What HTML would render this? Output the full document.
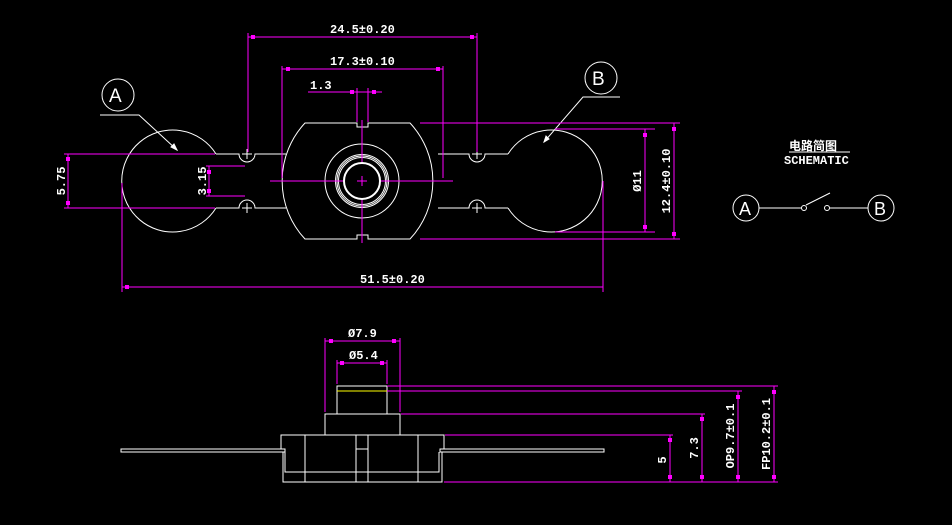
<!DOCTYPE html>
<html><head><meta charset="utf-8"><style>
html,body{margin:0;padding:0;background:#000;}
svg{display:block}
text{font-family:"Liberation Mono","Noto Sans CJK SC",monospace;font-weight:bold;fill:#fff;font-size:12px}
</style></head><body>
<svg width="952" height="525" viewBox="0 0 952 525" xmlns="http://www.w3.org/2000/svg">
<rect width="952" height="525" fill="#000"/>
<g fill="none" stroke="#fff" stroke-width="1">
<path d="M216,154 A51,51 0 1 0 216,208"/>
<path d="M216,154 H239 A8,8 0 0 0 255,154 H286"/>
<path d="M216,208 H239 A8,8 0 0 1 255,208 H286"/>
<path d="M508,154 A51,51 0 1 1 508,208"/>
<path d="M508,154 H485 A8,8 0 0 1 469,154 H438"/>
<path d="M508,208 H485 A8,8 0 0 0 469,208 H438"/>
<path d="M305,123 H357 V127 H368 V123 H410 A85,85 0 0 1 410,239 H368 V235 H357 V239 H305 A85,85 0 0 1 305,123 Z"/>
<circle cx="362" cy="181" r="37"/>
<circle cx="362" cy="181" r="26.5"/>
<circle cx="362" cy="181" r="25"/>
<circle cx="362" cy="181" r="23.5"/>
<circle cx="362" cy="181" r="18" stroke-width="2"/>
<path d="M242,154h10M247,149v10M242,208h10M247,203v10M472,154h10M477,149v10M472,208h10M477,203v10"/>
<circle cx="118" cy="95" r="16"/>
<path d="M100,115 H139 L177,150"/>
<circle cx="601" cy="78" r="16"/>
<path d="M620,97 H583 L544,142"/>
<circle cx="746" cy="208" r="13"/>
<circle cx="881" cy="208" r="13"/>
<path d="M759,208 H802 M829,208 H868 M806,205 L830,193"/>
<circle cx="804" cy="208" r="2.5"/>
<circle cx="827" cy="208" r="2.5"/>
<path d="M789,152 H850"/>
<rect x="121" y="449" width="164" height="3"/>
<rect x="440" y="449" width="164" height="3"/>
<path d="M281,449 V435 H444 V449 M283,452 V482 H442 V452 M285,452 V472 H439 V452"/>
<path d="M305,435V482 M356,435V482 M368,435V482 M418,435V482 M356,449H368"/>
<rect x="325" y="414" width="75" height="21"/>
<rect x="337" y="386" width="50" height="28"/>
</g>
<path d="M177,150 l-6,-3 l3,-3 z M544,142 l2,-6 l3,3 z" fill="#fff" stroke="#fff"/>
<path d="M337,391 H387" stroke="#ff0" stroke-width="1"/>
<g stroke="#f0f" stroke-width="1" fill="none">
<path d="M248,33V152 M477,33V152 M248,37H477"/>
<path d="M282,66V178 M443,66V178 M282,69H443"/>
<path d="M308,92H382 M357,88V122 M368,88V122"/>
<path d="M270,181H343 M381,181H453 M362,120V162 M362,200V243 M357,181H367 M362,176V186"/>
<path d="M64,154H215 M64,208H215 M68,154V208"/>
<path d="M206,166H245 M206,196H245 M209,166V196"/>
<path d="M122,183V292 M603,181V292 M122,287H603"/>
<path d="M555,129H655 M555,232H655 M645,129V232"/>
<path d="M420,123H680 M420,239H680 M674,123V239"/>
<path d="M325,338V412 M400,338V412 M325,341H400"/>
<path d="M337,360V384 M387,360V384 M337,363H387"/>
<path d="M387,386H778 M387,391H742 M401,414H705 M445,435H673 M444,482H778"/>
<path d="M670,435V482 M702,414V482 M738,391V482 M774,386V482"/>
</g>
<g fill="#f0f">
<rect x="251" y="35" width="4" height="4"/><rect x="470" y="35" width="4" height="4"/>
<rect x="286" y="67" width="4" height="4"/><rect x="436" y="67" width="4" height="4"/>
<rect x="350" y="90" width="4" height="4"/><rect x="372" y="90" width="4" height="4"/>
<rect x="66" y="157" width="4" height="4"/><rect x="66" y="201" width="4" height="4"/>
<rect x="207" y="170" width="4" height="4"/><rect x="207" y="189" width="4" height="4"/>
<rect x="125" y="285" width="4" height="4"/>
<rect x="643" y="133" width="4" height="4"/><rect x="643" y="225" width="4" height="4"/>
<rect x="672" y="127" width="4" height="4"/><rect x="672" y="232" width="4" height="4"/>
<rect x="329" y="339" width="4" height="4"/><rect x="392" y="339" width="4" height="4"/>
<rect x="340" y="361" width="4" height="4"/><rect x="380" y="361" width="4" height="4"/>
<rect x="668" y="438" width="4" height="4"/><rect x="668" y="475" width="4" height="4"/>
<rect x="700" y="417" width="4" height="4"/><rect x="700" y="475" width="4" height="4"/>
<rect x="736" y="395" width="4" height="4"/><rect x="736" y="475" width="4" height="4"/>
<rect x="772" y="390" width="4" height="4"/><rect x="772" y="475" width="4" height="4"/>
</g>
<g>
<text x="330" y="33">24.5±0.20</text>
<text x="330" y="65">17.3±0.10</text>
<text x="310" y="89">1.3</text>
<text x="360" y="283">51.5±0.20</text>
<text transform="translate(65,181) rotate(-90)" text-anchor="middle">5.75</text>
<text transform="translate(206,181) rotate(-90)" text-anchor="middle">3.15</text>
<text transform="translate(641,181) rotate(-90)" text-anchor="middle">Ø11</text>
<text transform="translate(670,181) rotate(-90)" text-anchor="middle">12.4±0.10</text>
<text x="348" y="337">Ø7.9</text>
<text x="349" y="359">Ø5.4</text>
<text transform="translate(666,460) rotate(-90)" text-anchor="middle">5</text>
<text transform="translate(698,448) rotate(-90)" text-anchor="middle">7.3</text>
<text transform="translate(734,436) rotate(-90)" text-anchor="middle">OP9.7±0.1</text>
<text transform="translate(770,434) rotate(-90)" text-anchor="middle">FP10.2±0.1</text>
<text x="789" y="150">电路简图</text>
<text x="784" y="164">SCHEMATIC</text>
<text x="109" y="102" style="font-weight:normal;font-size:19px;font-family:'Liberation Sans',sans-serif">A</text>
<text x="592" y="85" style="font-weight:normal;font-size:19px;font-family:'Liberation Sans',sans-serif">B</text>
<text x="739" y="215" style="font-weight:normal;font-size:18px;font-family:'Liberation Sans',sans-serif">A</text>
<text x="874" y="215" style="font-weight:normal;font-size:18px;font-family:'Liberation Sans',sans-serif">B</text>
</g>
</svg>
</body></html>
